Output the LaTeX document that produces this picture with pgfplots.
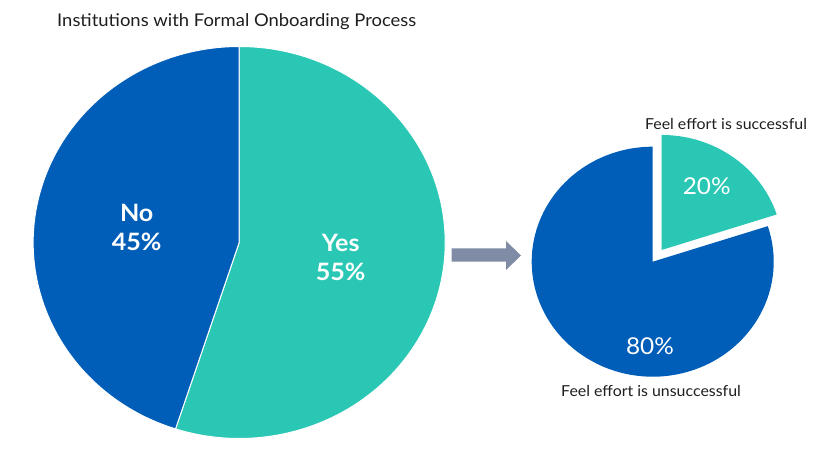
\documentclass[border=0pt]{standalone}
\usepackage{pgfplots}
\pgfplotsset{compat=1.18}
\usepackage{pgfplotstable}
\usepackage{fontspec}
\setmainfont{Lato}
\definecolor{pieblue}{RGB}{0,94,184}
\definecolor{pieteal}{RGB}{42,200,180}
\definecolor{arrowgray}{RGB}{128,139,165}
\definecolor{txt}{RGB}{30,30,30}

\pgfplotstableread{
label value
Yes 55
No 45
}\formaltable
\pgfplotstableread{
label value
Successful 20
Unsuccessful 80
}\efforttable

\begin{document}
\begin{tikzpicture}
\pgfplotstablegetelem{0}{value}\of\formaltable \let\yesval\pgfplotsretval
\pgfplotstablegetelem{1}{value}\of\formaltable \let\noval\pgfplotsretval
\pgfplotstablegetelem{0}{value}\of\efforttable \let\succval\pgfplotsretval
\pgfplotstablegetelem{1}{value}\of\efforttable \let\unsuccval\pgfplotsretval
\pgfmathsetmacro{\yesend}{90-3.6*\yesval}
\pgfmathsetmacro{\noend}{\yesend-3.6*\noval}
\pgfmathsetmacro{\succend}{90-3.6*\succval}
\pgfmathsetmacro{\unsuccend}{\succend-3.6*\unsuccval}
\pgfmathsetmacro{\succmid}{90-1.8*\succval}
\begin{axis}[x=1bp, y=1bp, xmin=0, xmax=820, ymin=0, ymax=452,
  y dir=reverse, hide axis, clip=false]
\path (axis cs:0,0) rectangle (axis cs:820,452);
% big pie
\fill[pieteal, draw=white, line width=1bp] (axis cs:239.2,242.5) -- ++(90:206bp and 196bp)
  arc[start angle=90, end angle=\yesend, x radius=206bp, y radius=196bp] -- cycle;
\fill[pieblue, draw=white, line width=1bp] (axis cs:239.2,242.5) -- ++(\yesend:206bp and 196bp)
  arc[start angle=\yesend, end angle=\noend, x radius=206bp, y radius=196bp] -- cycle;
% small pie
\fill[pieblue] (axis cs:652.7,261.7) -- ++(\succend:121bp and 115bp)
  arc[start angle=\succend, end angle=\unsuccend, x radius=121bp, y radius=115bp] -- cycle;
\fill[pieteal] (axis cs:652.7,261.7) ++(\succmid:15.2bp and 14.5bp) -- ++(90:121bp and 115bp)
  arc[start angle=90, end angle=\succend, x radius=121bp, y radius=115bp] -- cycle;
% arrow
\fill[arrowgray] (axis cs:451.7,248.3) -- (axis cs:506,248.3) -- (axis cs:506,241)
  -- (axis cs:521,255.5) -- (axis cs:506,270) -- (axis cs:506,261.7)
  -- (axis cs:451.7,261.7) -- cycle;
% texts
\node[anchor=base west, xscale=1.05, text=txt, font=\fontsize{17.6}{20}\selectfont, inner sep=0pt]
  at (axis cs:57,27) {Institutions with Formal Onboarding Process};
\node[anchor=base, xscale=1.05, text=white, font=\fontsize{24}{28}\selectfont\bfseries, inner sep=0pt]
  at (axis cs:136.7,222) {No};
\node[anchor=base, xscale=1.05, text=white, font=\fontsize{24}{28}\selectfont\bfseries, inner sep=0pt]
  at (axis cs:136.7,251) {45\%};
\node[anchor=base, xscale=1.05, text=white, font=\fontsize{24}{28}\selectfont\bfseries, inner sep=0pt]
  at (axis cs:340.7,252) {Yes};
\node[anchor=base, xscale=1.05, text=white, font=\fontsize{24}{28}\selectfont\bfseries, inner sep=0pt]
  at (axis cs:340.7,281) {55\%};
\node[anchor=base, xscale=1.05, text=white, font=\fontsize{23.3}{27}\selectfont, inner sep=0pt]
  at (axis cs:706.7,195) {20\%};
\node[anchor=base, xscale=1.05, text=white, font=\fontsize{23.3}{27}\selectfont, inner sep=0pt]
  at (axis cs:650,355) {80\%};
\node[anchor=base, xscale=1.05, text=txt, font=\fontsize{15.2}{18}\selectfont, inner sep=0pt]
  at (axis cs:726,129.3) {Feel effort is successful};
\node[anchor=base, xscale=1.05, text=txt, font=\fontsize{15.2}{18}\selectfont, inner sep=0pt]
  at (axis cs:651,396) {Feel effort is unsuccessful};
\end{axis}
\end{tikzpicture}
\end{document}
